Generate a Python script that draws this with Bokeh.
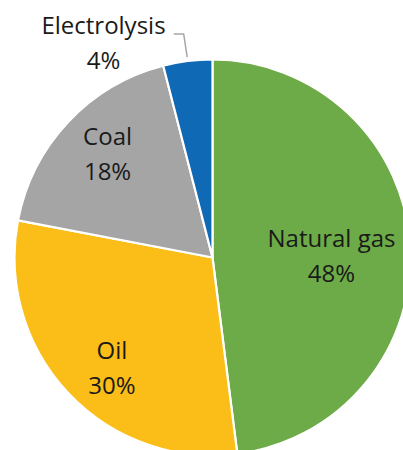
import math
from bokeh.plotting import figure
from bokeh.models import Range1d, ColumnDataSource
from bokeh.embed import file_html
from bokeh.resources import INLINE
from bokeh.core.properties import value

# ---- data ----
categories = ["Natural gas", "Oil", "Coal", "Electrolysis"]
shares = [48, 30, 18, 4]

# ---- style ----
colors = ["#6CAB47", "#FBBD17", "#A5A5A5", "#0F69B4"]
label_r = [0.601, 0.752, 0.747, 1.219]      # label distance as fraction of radius
label_shift = [2.5, -4.3, 1.6, -19.65]      # degrees shift from slice middle
LINE_GAP = 17.5
FONT = "Open Sans"
FS = "24px"
TXT = "#1A1A1A"

W, H = 403, 450
CX, CY_PIX, R = 212, 257, 198
CY = H - CY_PIX

p = figure(width=W, height=H, x_range=Range1d(0, W), y_range=Range1d(0, H),
           output_backend="svg", toolbar_location=None, min_border=0)
p.axis.visible = False
p.grid.visible = False
p.outline_line_color = None
p.background_fill_color = "white"
p.border_fill_color = "white"

total = sum(shares)
starts, ends, mids = [], [], []
cum = 0
for s in shares:
    a0 = 90 - 360 * cum / total
    a1 = 90 - 360 * (cum + s) / total
    starts.append(math.radians(a0))
    ends.append(math.radians(a1))
    mids.append(360 * (cum + s / 2) / total)  # clockwise from top, degrees
    cum += s

src = ColumnDataSource(dict(start=starts, end=ends, color=colors, cat=categories))
p.wedge(x=CX, y=CY, radius=R, start_angle="start", end_angle="end",
        direction="clock", fill_color="color", line_color="white",
        line_width=2.2, source=src)

name_x, name_y, pct_y, pct_txt = [], [], [], []
for i, s in enumerate(shares):
    th = math.radians(mids[i] + label_shift[i])
    x = CX + label_r[i] * R * math.sin(th)
    y = CY + label_r[i] * R * math.cos(th)
    name_x.append(x)
    name_y.append(y + LINE_GAP)
    pct_y.append(y - LINE_GAP)
    pct_txt.append(f"{s}%")

p.text(x=name_x, y=name_y, text=categories, text_font=value(FONT),
       text_font_size=FS, text_color=TXT, text_align="center",
       text_baseline="middle")
p.text(x=name_x, y=pct_y, text=pct_txt, text_font=value(FONT),
       text_font_size=FS, text_color=TXT, text_align="center",
       text_baseline="middle")

# leader line for the small slice (last one)
th = math.radians(mids[-1])
ax = CX + (R + 4) * math.sin(th)
ay = CY + (R + 4) * math.cos(th)
ex = ax - 3.5
ey = name_y[-1] - 9.3
p.line(x=[ax, ex, ex - 10], y=[ay, ey, ey], line_color="#A6A6A6", line_width=1.5)

open("out.html", "w").write(file_html(p, INLINE))
